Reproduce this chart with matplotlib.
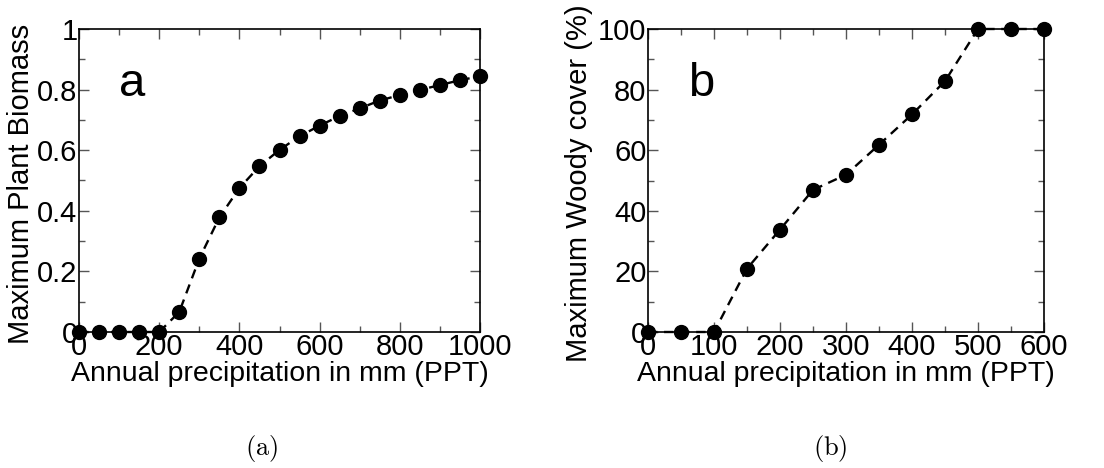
import matplotlib
matplotlib.use("Agg")
import matplotlib.pyplot as plt
from matplotlib.ticker import MultipleLocator

plt.rcParams['font.family'] = ['Liberation Sans', 'DejaVu Sans']
plt.rcParams['mathtext.fontset'] = 'cm'

ppt_a = [0, 50, 100, 150, 200, 250, 300, 350, 400, 450, 500, 550, 600, 650,
         700, 750, 800, 850, 900, 950, 1000]
biomass = [0, 0, 0, 0, 0, 0.066, 0.242, 0.378, 0.475, 0.547, 0.601, 0.646,
           0.681, 0.713, 0.738, 0.764, 0.782, 0.799, 0.815, 0.831, 0.844]

ppt_b = [0, 50, 100, 150, 200, 250, 300, 350, 400, 450, 500, 550, 600]
woody = [0, 0, 0, 20.9, 33.8, 46.9, 51.9, 61.8, 71.8, 82.8, 100, 100, 100]

W, H = 1104, 468
fig = plt.figure(figsize=(W / 100, H / 100), dpi=100)

def px_axes(l, r, t, b):
    return fig.add_axes([l / W, 1 - b / H, (r - l) / W, (b - t) / H])

ax1 = px_axes(79, 480, 29, 332)
ax2 = px_axes(648, 1044, 29, 332)

def style(ax, x, y, xlim, ylim, xmaj, ymaj, xlabel, ylabel, letter, ylx):
    ax.plot(x, y, linestyle=(0, (4, 2.8)), color='black', lw=1.7,
            marker='o', markersize=10, markerfacecolor='black',
            markeredgecolor='black', clip_on=False, zorder=3)
    ax.set_xlim(*xlim)
    ax.set_ylim(*ylim)
    ax.xaxis.set_major_locator(MultipleLocator(xmaj))
    ax.xaxis.set_minor_locator(MultipleLocator(xmaj / 2))
    ax.yaxis.set_major_locator(MultipleLocator(ymaj))
    ax.yaxis.set_minor_locator(MultipleLocator(ymaj / 2))
    ax.tick_params(which='both', direction='in', top=True, right=True,
                   labelsize=21, pad=1, width=1, color='#555555')
    ax.tick_params(which='major', length=7)
    ax.tick_params(which='minor', length=4)
    for s in ax.spines.values():
        s.set_linewidth(1.2)
    ax.set_xlabel(xlabel, fontsize=20.5, labelpad=0)
    ax.set_ylabel(ylabel, fontsize=21)
    ax.yaxis.set_label_coords(ylx, 0.49)
    ax.text(0.1, 0.82, letter, transform=ax.transAxes, fontsize=34,
            ha='left', va='center')

style(ax1, ppt_a, biomass, (0, 1000), (0, 1), 200, 0.2,
      'Annual precipitation in mm (PPT)', 'Maximum Plant Biomass', 'a', -0.11)
ax1.set_yticks([0, 0.2, 0.4, 0.6, 0.8, 1.0])
ax1.set_yticklabels(['0', '0.2', '0.4', '0.6', '0.8', '1'])

style(ax2, ppt_b, woody, (0, 600), (0, 100), 100, 20,
      'Annual precipitation in mm (PPT)', 'Maximum Woody cover (%)', 'b', -0.139)

fig.text(262 / W, 1 - 448 / H, r'$\mathrm{(a)}$', fontsize=19, ha='center', va='center')
fig.text(830 / W, 1 - 448 / H, r'$\mathrm{(b)}$', fontsize=19, ha='center', va='center')

fig.savefig('out.png', dpi=100)
